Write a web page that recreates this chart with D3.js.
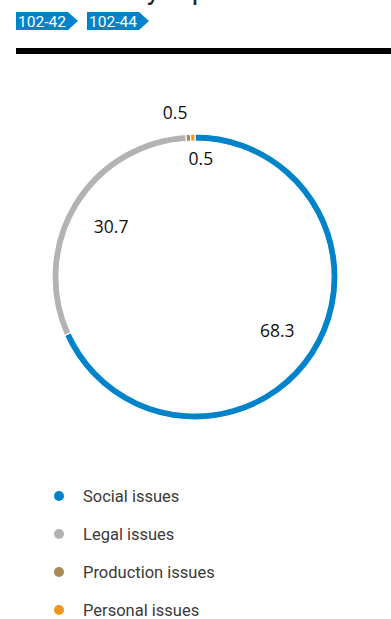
<!DOCTYPE html>
<html>
<head>
<meta charset="utf-8">
<script src="https://cdn.jsdelivr.net/npm/d3@7"></script>
<style>
  html, body { margin: 0; padding: 0; background: #fff; }
  svg { display: block; }
</style>
</head>
<body>
<svg id="chart" width="391" height="619"></svg>
<script>
const categories = ["Social issues", "Legal issues", "Production issues", "Personal issues"];
const values = [68.3, 30.7, 0.5, 0.5];
const valueLabels = ["68.3", "30.7", "0.5", "0.5"];
const colors = ["#0083ca", "#b3b3b3", "#a88a55", "#f0961e"];
const tags = ["102-42", "102-44"];
const titleText = "Incidents by topic in 2019–2020, %";

const svg = d3.select("#chart");
const W = 391;

// Title (cropped at top, only descenders visible)
svg.append("text")
  .attr("x", 10).attr("y", -1)
  .attr("font-family", "Roboto, sans-serif")
  .attr("font-size", 28)
  .attr("fill", "#222")
  .text(titleText);

// Tags
const tagX = d3.scaleOrdinal().domain(tags).range([16, 87]);
const tagG = svg.selectAll("g.tag").data(tags).join("g")
  .attr("class", "tag")
  .attr("transform", d => `translate(${tagX(d)},12)`);
tagG.append("path")
  .attr("d", "M0,0 H52 L62,9 L52,18 H0 Z")
  .attr("fill", "#0083ca");
tagG.append("text")
  .attr("x", 2).attr("y", 14.5)
  .attr("font-family", "Roboto, sans-serif")
  .attr("font-size", 15)
  .attr("fill", "#fff")
  .attr("textLength", 48)
  .attr("lengthAdjust", "spacingAndGlyphs")
  .text(d => d);

// Black rule
svg.append("rect")
  .attr("x", 16).attr("y", 48).attr("width", W - 16).attr("height", 6)
  .attr("fill", "#000");

// Donut
const cx = 195, cy = 277, outerR = 143, innerR = 136;
const pie = d3.pie().sort(null).value(d => d)(values);
const arc = d3.arc().innerRadius(innerR).outerRadius(outerR);
const g = svg.append("g").attr("transform", `translate(${cx},${cy})`);
g.selectAll("path.slice").data(pie).join("path")
  .attr("class", "slice")
  .attr("d", arc)
  .attr("fill", (d, i) => colors[i])
  .attr("stroke", "#fff")
  .attr("stroke-width", 1.2);

// Value labels
const labelArc = d3.arc().innerRadius(98).outerRadius(98);
function labelPos(d, i) {
  if (d.data >= 5) return labelArc.centroid(d);
  // tiny slices: one label outside the ring, one inside
  const a = i === 2 ? -0.12 : 0.05;
  const r = i === 2 ? 166 : 118;
  return [Math.sin(a) * r, -Math.cos(a) * r];
}
g.selectAll("text.val").data(pie).join("text")
  .attr("class", "val")
  .attr("transform", (d, i) => `translate(${labelPos(d, i)})`)
  .attr("text-anchor", "middle")
  .attr("dy", "0.36em")
  .attr("font-family", "'Open Sans', sans-serif")
  .attr("font-size", 17.5)
  .attr("fill", "#111")
  .text((d, i) => valueLabels[i]);

// Legend
const ly = d3.scalePoint().domain(categories).range([496, 610]);
const leg = svg.selectAll("g.leg").data(categories).join("g")
  .attr("class", "leg")
  .attr("transform", d => `translate(59,${ly(d)})`);
leg.append("circle").attr("r", 5).attr("fill", (d, i) => colors[i]);
leg.append("text")
  .attr("x", 24).attr("dy", "0.35em")
  .attr("font-family", "Roboto, sans-serif")
  .attr("font-size", 16.5)
  .attr("fill", "#3a3a3a")
  .text(d => d);
</script>
</body>
</html>
